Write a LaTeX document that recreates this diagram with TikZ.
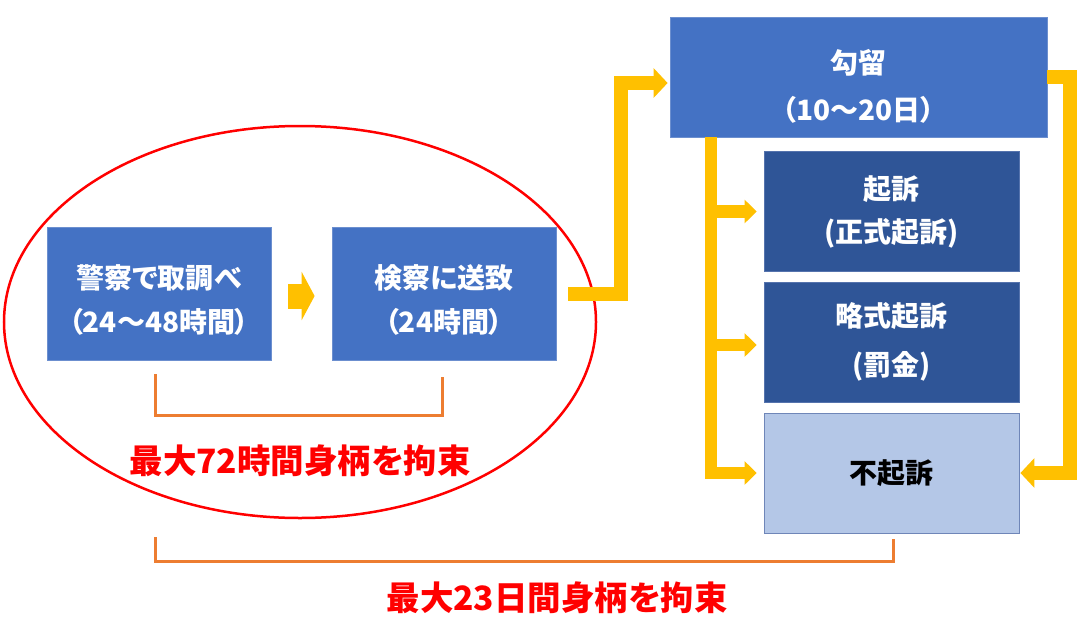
\documentclass[tikz,border=0pt]{standalone}
\usepackage{fontspec}
\newfontfamily\jp{Noto Sans CJK JP}[RawFeature=+palt]
\usetikzlibrary{arrows.meta}
\definecolor{boxblue}{HTML}{4472C4}
\definecolor{boxedge}{HTML}{6C8FCF}
\definecolor{darkblue}{HTML}{2F5597}
\definecolor{darkedge}{HTML}{5573AD}
\definecolor{lightblue}{HTML}{B4C7E7}
\definecolor{lightedge}{HTML}{6F86B8}
\definecolor{arrowyellow}{HTML}{FFC000}
\definecolor{bracketorange}{HTML}{ED7D31}
\definecolor{limitred}{HTML}{FF0000}
\begin{document}
\begin{tikzpicture}[x=1pt,y=-1pt,
  boxA/.style={draw=boxedge, line width=0.8pt, fill=boxblue, inner sep=0pt},
  boxB/.style={draw=darkedge, line width=0.8pt, fill=darkblue, inner sep=0pt, minimum width=255pt, minimum height=120pt},
  boxC/.style={draw=lightedge, line width=0.8pt, fill=lightblue, inner sep=0pt, minimum width=255pt, minimum height=120pt},
  wtext/.style={text=white, align=center, inner sep=0pt},
  fatarrow/.style={draw=arrowyellow, line width=14pt, line join=miter, -{Triangle[width=29pt,length=14pt]}},
  thinarrow/.style={draw=arrowyellow, line width=12.5pt, line join=miter, -{Triangle[width=23pt,length=12pt]}},
  smallarrow/.style={draw=arrowyellow, line width=25pt, -{Triangle[width=48pt,length=13pt]}},
  bracketline/.style={draw=bracketorange, line width=3pt, line join=miter},
  limittext/.style={text=limitred, font=\jp\bfseries\fontsize{33.5pt}{40pt}\selectfont, inner sep=0pt}
]
\useasboundingbox[fill=white] (0,0) rectangle (1091,618);

% ellipse
\draw[limitred, line width=2.5pt] (300,322) ellipse [x radius=296pt, y radius=196pt];

% boxes
\node[boxA, minimum width=224pt, minimum height=133pt] (b1) at (159,293.5) {};
\node[boxA, minimum width=224pt, minimum height=133pt] (b2) at (444,293.5) {};
\node[boxA, minimum width=377pt, minimum height=120pt] (kouryu) at (858.5,77) {};
\node[boxB] (kiso) at (891.5,211.5) {};
\node[boxB] (ryaku) at (891.5,342) {};
\node[boxC] (fukiso) at (891.5,473) {};

% texts in boxes
\node[wtext, font=\jp\bfseries\fontsize{28pt}{44pt}\selectfont] (t1) at (159,300) {警察で取調べ\\（24〜48時間）};
\node[wtext, font=\jp\bfseries\fontsize{28pt}{44pt}\selectfont] (t2) at (444,300) {検察に送致\\（24時間）};
\node[wtext, font=\jp\bfseries\fontsize{28pt}{47pt}\selectfont] (t3) at (858.5,86.5) {勾留\\（10〜20日）};
\node[wtext, font=\jp\bfseries\fontsize{28pt}{43pt}\selectfont] (t4) at (kiso.center) {起訴\\(正式起訴)};
\node[wtext, font=\jp\bfseries\fontsize{28pt}{49pt}\selectfont] (t5) at (ryaku.center) {略式起訴\\(罰金)};
\node[text=black, inner sep=0pt, font=\jp\bfseries\fontsize{28pt}{40pt}\selectfont] (t6) at (fukiso.center) {不起訴};

% arrows
\draw[smallarrow, shorten <=17pt, shorten >=17pt] (b1.east |- 0,296) -- (b2.west |- 0,296);
\draw[fatarrow, shorten >=2pt] ([xshift=12pt]b2.east) -- ++(52.5,0) |- ([yshift=-6pt]kouryu.west);
\coordinate (trunk) at ([xshift=41.5pt]kouryu.south west);
\draw[thinarrow, shorten >=7pt] (trunk) |- (fukiso.west);
\draw[thinarrow, shorten >=7pt] (kiso.west -| trunk) -- (kiso.west);
\draw[thinarrow, shorten >=7pt] ([yshift=-3pt]ryaku.west -| trunk) -- ([yshift=-3pt]ryaku.west);
\draw[fatarrow, shorten >=1pt] (kouryu.east) -- ++(23,0) |- (fukiso.east);

% brackets
\draw[bracketline] (155,374) |- (442,415.5) -- (442,377);
\draw[bracketline] (155,537) |- (893,561) -- (893,539);

% limit texts
\node[limittext] (lim72) at (300,461) {最大72時間身柄を拘束};
\node[limittext] (lim23) at (557,598) {最大23日間身柄を拘束};
\end{tikzpicture}
\end{document}
